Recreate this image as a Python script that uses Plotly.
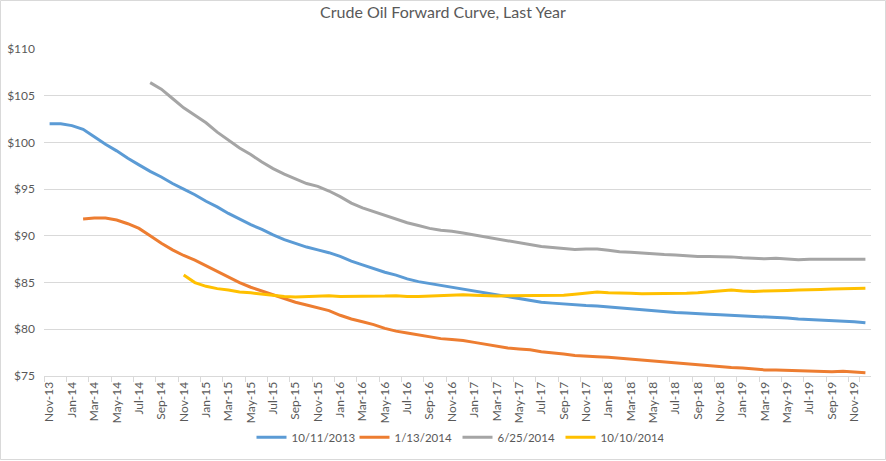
import plotly.graph_objects as go

# monthly contract months on the x axis
months = ["Nov-13", "Dec-13"] + [m + "-" + str(y) for y in range(14, 20) for m in
          ["Jan", "Feb", "Mar", "Apr", "May", "Jun", "Jul", "Aug", "Sep", "Oct", "Nov", "Dec"]]

curve_2013_10_11 = [102.0, 102.0, 101.8, 101.4, 100.6, 99.8, 99.1, 98.3, 97.6, 96.9,
                    96.3, 95.6, 95.0, 94.4, 93.7, 93.1, 92.4, 91.8, 91.2, 90.7,
                    90.1, 89.6, 89.2, 88.8, 88.5, 88.2, 87.8, 87.3, 86.9, 86.5,
                    86.1, 85.8, 85.4, 85.1, 84.9, 84.7, 84.5, 84.3, 84.1, 83.9,
                    83.7, 83.5, 83.3, 83.1, 82.9, 82.8, 82.7, 82.6, 82.55, 82.5,
                    82.4, 82.3, 82.2, 82.05, 82.0, 81.9, 81.8, 81.75, 81.65, 81.6,
                    81.55, 81.5, 81.45, 81.4, 81.35, 81.3, 81.2, 81.1, 81.05, 81.0,
                    80.95, 80.85, 80.8, 80.7]

curve_2014_01_13 = [None, None, None, 91.8, 91.9, 91.9, 91.7, 91.3, 90.8, 90.0,
                    89.2, 88.5, 87.9, 87.4, 86.8, 86.2, 85.6, 85.0, 84.5, 84.1,
                    83.7, 83.3, 82.9, 82.6, 82.3, 82.0, 81.5, 81.1, 80.8, 80.5,
                    80.1, 79.8, 79.6, 79.4, 79.2, 79.0, 78.9, 78.8, 78.6, 78.4,
                    78.2, 78.0, 77.9, 77.8, 77.6, 77.5, 77.35, 77.2, 77.1, 77.05,
                    77.0, 76.9, 76.75, 76.65, 76.55, 76.45, 76.35, 76.25, 76.2, 76.1,
                    75.95, 75.9, 75.85, 75.75, 75.65, 75.65, 75.6, 75.6, 75.55, 75.5,
                    75.45, 75.5, 75.45, 75.35]

curve_2014_06_25 = [None] * 9 + [106.4, 105.7, 104.7, 103.7, 102.9, 102.1, 101.1, 100.2, 99.4,
                    98.7, 97.9, 97.2, 96.6, 96.1, 95.6, 95.3, 94.8, 94.2, 93.5,
                    93.0, 92.6, 92.2, 91.8, 91.4, 91.1, 90.8, 90.6, 90.5, 90.3,
                    90.1, 89.85, 89.65, 89.5, 89.3, 89.1, 88.85, 88.75, 88.65, 88.55,
                    88.6, 88.6, 88.45, 88.3, 88.25, 88.15, 88.05, 88.0, 87.95, 87.85,
                    87.8, 87.8, 87.8, 87.75, 87.65, 87.6, 87.55, 87.6, 87.55, 87.45,
                    87.5, 87.5, 87.5, 87.5, 87.5, 87.5]

curve_2014_10_10 = [None] * 12 + [85.8, 85.0, 84.6, 84.35, 84.2, 84.0, 83.9, 83.75,
                    83.6, 83.5, 83.45, 83.5, 83.6, 83.6, 83.5, 83.5, 83.5, 83.5,
                    83.55, 83.6, 83.5, 83.5, 83.55, 83.6, 83.7, 83.7, 83.65, 83.6,
                    83.55, 83.6, 83.6, 83.6, 83.6, 83.6, 83.65, 83.75, 83.85, 84.0,
                    83.9, 83.9, 83.85, 83.8, 83.8, 83.8, 83.8, 83.85, 83.9, 84.0,
                    84.1, 84.2, 84.1, 84.05, 84.1, 84.1, 84.15, 84.2, 84.2, 84.25,
                    84.3, 84.35, 84.35, 84.4]

series_names = ["10/11/2013", "1/13/2014", "6/25/2014", "10/10/2014"]
series_colors = ["#5B9BD5", "#ED7D31", "#A5A5A5", "#FFC000"]
series_values = [curve_2013_10_11, curve_2014_01_13, curve_2014_06_25, curve_2014_10_10]

fig = go.Figure()
for name, color, vals in zip(series_names, series_colors, series_values):
    fig.add_trace(go.Scatter(x=months, y=vals, name=name, mode="lines",
                             line=dict(color=color, width=3)))

fig.update_layout(
    width=886, height=461,
    margin=dict(l=44, r=15, t=49, b=85, autoexpand=False),
    paper_bgcolor="white", plot_bgcolor="white",
    font=dict(family="Lato, Open Sans, sans-serif", color="#595959", size=11),
    title=dict(text="Crude Oil Forward Curve, Last Year", x=0.5, xanchor="center",
               y=0.974, yanchor="middle", font=dict(size=16, color="#595959")),
    legend=dict(orientation="h", x=0.5, xanchor="center", y=-0.187, yanchor="middle",
                entrywidth=58, font=dict(size=11.5, color="#595959")),
    showlegend=True,
)

fig.update_xaxes(type="category", tickmode="array", tickvals=months[::2],
                 ticktext=months[::2], tickangle=-90, tickson="boundaries",
                 ticks="outside", ticklen=5, tickcolor="#d9d9d9", automargin=False,
                 showline=True, linecolor="#d9d9d9", showgrid=False,
                 range=[-0.5, len(months) - 0.5], tickfont=dict(size=12))
fig.update_yaxes(range=[75, 110], dtick=5, tickprefix="$", showgrid=True,
                 gridcolor="#d9d9d9", zeroline=False, showline=False, automargin=False,
                 tickfont=dict(size=12), ticks="", ticklabelstandoff=8)

# light border around the chart area
fig.add_shape(type="rect", xref="paper", yref="paper",
              x0=-43.5 / 827, x1=1 + 14.5 / 827, y0=-83.5 / 327, y1=1 + 48.5 / 327,
              line=dict(color="#d9d9d9", width=1))

# drop the default page margin so the figure sits at the window's corner
fig.write_html("out.html", config={"displayModeBar": False},
               post_script="document.body.style.margin='0';")
